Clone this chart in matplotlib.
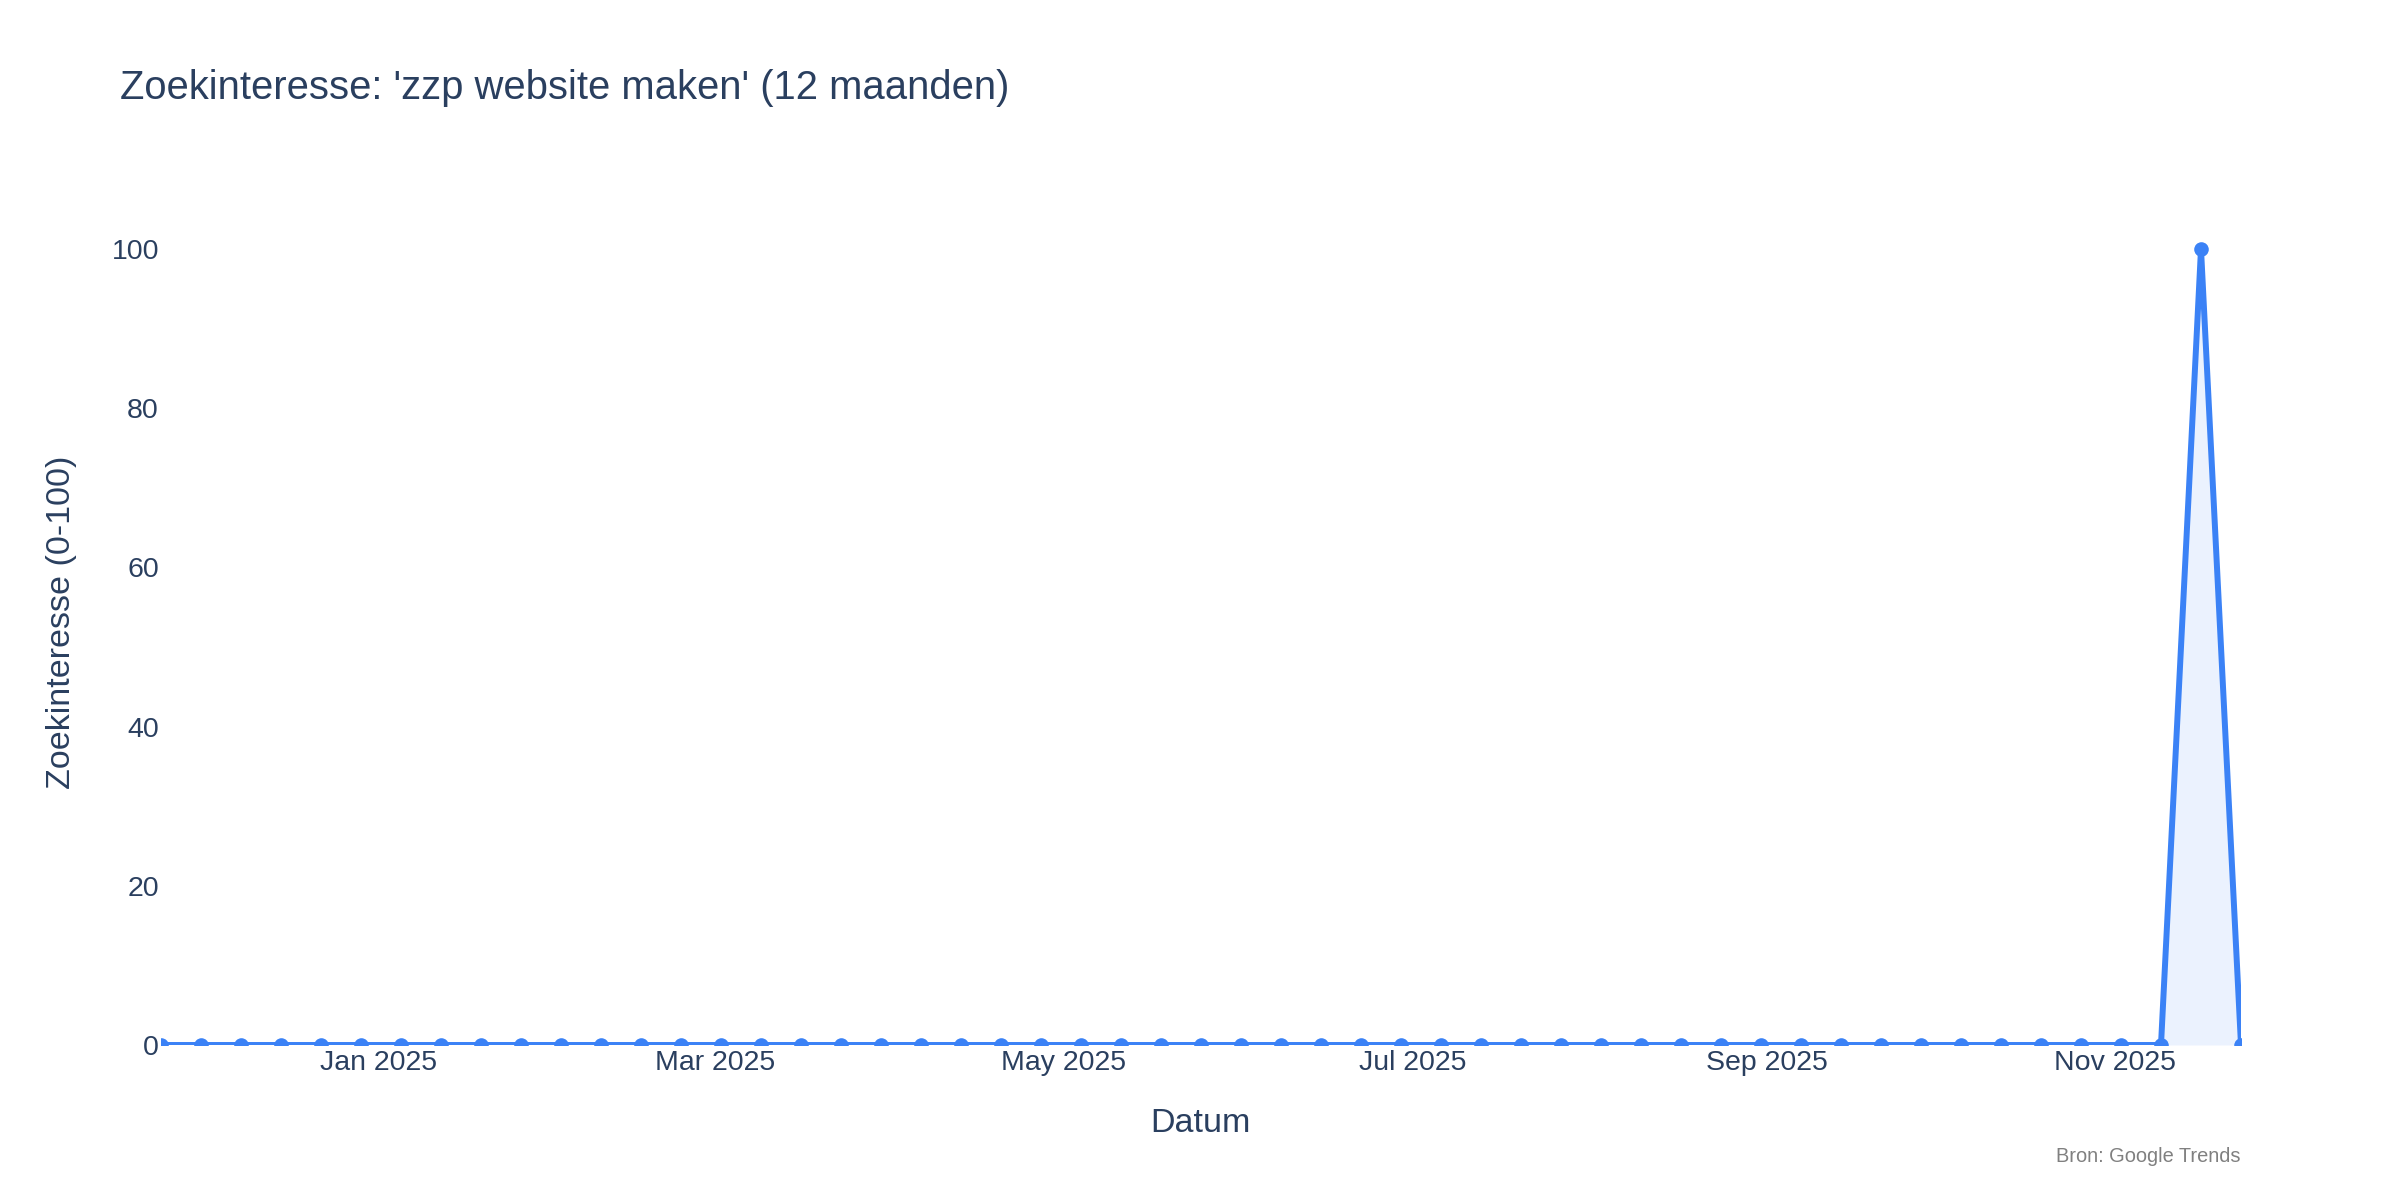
import matplotlib
matplotlib.use("Agg")
import matplotlib.pyplot as plt
import matplotlib.dates as mdates
import pandas as pd
import numpy as np

plt.rcParams['font.family'] = ['Liberation Sans', 'DejaVu Sans']

# Data (weekly Google Trends, 12 months)
dates = pd.date_range("2024-11-24", "2025-11-23", freq="7D")
values = [0, 0, 0, 0, 0, 0, 0, 0, 0, 0,
          0, 0, 0, 0, 0, 0, 0, 0, 0, 0,
          0, 0, 0, 0, 0, 0, 0, 0, 0, 0,
          0, 0, 0, 0, 0, 0, 0, 0, 0, 0,
          0, 0, 0, 0, 0, 0, 0, 0, 0, 0,
          0, 100, 0]
y_ticks = [0, 20, 40, 60, 80, 100]

title = "Zoekinteresse: 'zzp website maken' (12 maanden)"
x_title = "Datum"
y_title = "Zoekinteresse (0-100)"
source = "Bron: Google Trends"

TEXT = "#2a3f5f"
BLUE = "#3b82f6"

fig = plt.figure(figsize=(24, 12), dpi=100)
ax = fig.add_axes([161/2400, 155/1200, (2241-161)/2400, 106*7.96/1200])

ax.fill_between(dates, values, 0, color=BLUE, alpha=0.1, linewidth=0)
ax.plot(dates, values, color=BLUE, linewidth=4.3, marker="o", markersize=10.5,
        markeredgewidth=0, solid_joinstyle="miter")

ax.set_xlim(dates[0], dates[-1])
ax.set_ylim(0, 106)
ax.set_yticks(y_ticks)
ax.xaxis.set_major_locator(mdates.MonthLocator(bymonth=[1, 3, 5, 7, 9, 11]))
ax.xaxis.set_major_formatter(mdates.DateFormatter("%b %Y"))

for s in ax.spines.values():
    s.set_visible(False)
ax.tick_params(axis="both", length=0, labelsize=20.5, labelcolor=TEXT)
ax.tick_params(axis="y", pad=1.5)
ax.tick_params(axis="x", pad=3.5)

fig.text(1200/2400, 1 - 1123/1200, x_title, ha="center", va="center",
         fontsize=24.5, color=TEXT)
fig.text(62/2400, 1 - 622/1200, y_title, ha="center", va="center",
         rotation=90, fontsize=24.5, color=TEXT)
fig.text(120/2400, 1 - 88/1200, title, ha="left", va="center",
         fontsize=28.8, color=TEXT)
fig.text(2240/2400, 1 - 1156/1200, source, ha="right", va="center",
         fontsize=14.4, color="#808080")

fig.savefig("out.png", dpi=100, facecolor="white")
